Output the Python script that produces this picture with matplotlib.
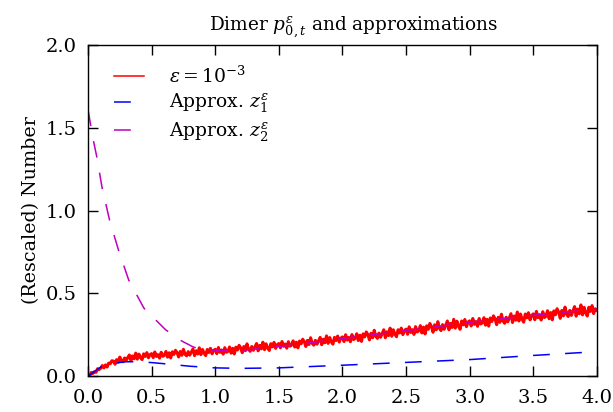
"""
Dimer p_{0,t}^eps with the two approximations z1, z2.
Saves out.png
"""
import numpy as np
import matplotlib
matplotlib.use("Agg")
import matplotlib.pyplot as plt

plt.rcParams["font.family"] = ["DejaVu Serif"]
plt.rcParams["mathtext.fontset"] = "dejavuserif"

# ── Simulated dimer (eps = 1e-3), sampled every 0.0125 ────────────────────────
t_sim = np.linspace(0.0, 4.0, 321)
p_sim = [
    0.000, 0.002, 0.022, 0.016, 0.027, 0.023, 0.045, 0.040,
    0.048, 0.064, 0.050, 0.068, 0.055, 0.079, 0.075, 0.093,
    0.091, 0.072, 0.100, 0.084, 0.115, 0.093, 0.087, 0.110,
    0.094, 0.112, 0.128, 0.094, 0.122, 0.105, 0.139, 0.103,
    0.133, 0.112, 0.100, 0.135, 0.119, 0.142, 0.111, 0.130,
    0.136, 0.112, 0.146, 0.119, 0.130, 0.109, 0.144, 0.120,
    0.126, 0.149, 0.115, 0.141, 0.110, 0.147, 0.131, 0.156,
    0.142, 0.116, 0.149, 0.126, 0.162, 0.132, 0.123, 0.148,
    0.127, 0.146, 0.164, 0.124, 0.153, 0.134, 0.171, 0.130,
    0.161, 0.139, 0.124, 0.161, 0.143, 0.168, 0.135, 0.155,
    0.162, 0.136, 0.173, 0.144, 0.158, 0.133, 0.172, 0.144,
    0.150, 0.176, 0.139, 0.168, 0.134, 0.175, 0.158, 0.186,
    0.171, 0.142, 0.179, 0.154, 0.195, 0.161, 0.150, 0.179,
    0.156, 0.177, 0.197, 0.153, 0.186, 0.165, 0.205, 0.160,
    0.195, 0.170, 0.155, 0.196, 0.177, 0.204, 0.168, 0.190,
    0.197, 0.171, 0.209, 0.180, 0.194, 0.169, 0.208, 0.181,
    0.187, 0.213, 0.176, 0.205, 0.171, 0.212, 0.195, 0.223,
    0.208, 0.179, 0.216, 0.191, 0.232, 0.198, 0.187, 0.216,
    0.193, 0.214, 0.234, 0.190, 0.223, 0.202, 0.243, 0.198,
    0.233, 0.208, 0.193, 0.234, 0.215, 0.242, 0.206, 0.229,
    0.237, 0.209, 0.250, 0.218, 0.234, 0.208, 0.251, 0.221,
    0.228, 0.256, 0.215, 0.247, 0.210, 0.255, 0.237, 0.267,
    0.251, 0.219, 0.259, 0.232, 0.277, 0.240, 0.228, 0.260,
    0.235, 0.258, 0.280, 0.232, 0.268, 0.245, 0.290, 0.241,
    0.280, 0.253, 0.238, 0.280, 0.261, 0.290, 0.251, 0.275,
    0.284, 0.253, 0.298, 0.264, 0.281, 0.252, 0.299, 0.267,
    0.274, 0.305, 0.261, 0.296, 0.255, 0.304, 0.283, 0.318,
    0.300, 0.265, 0.310, 0.280, 0.329, 0.289, 0.275, 0.311,
    0.283, 0.308, 0.333, 0.280, 0.319, 0.294, 0.343, 0.290,
    0.332, 0.301, 0.283, 0.333, 0.310, 0.342, 0.299, 0.326,
    0.334, 0.303, 0.348, 0.313, 0.330, 0.301, 0.348, 0.315,
    0.322, 0.353, 0.308, 0.343, 0.302, 0.351, 0.330, 0.364,
    0.346, 0.311, 0.355, 0.325, 0.374, 0.333, 0.319, 0.356,
    0.328, 0.353, 0.377, 0.324, 0.363, 0.338, 0.387, 0.333,
    0.375, 0.344, 0.326, 0.375, 0.352, 0.383, 0.340, 0.366,
    0.376, 0.341, 0.391, 0.353, 0.371, 0.339, 0.389, 0.354,
    0.361, 0.395, 0.347, 0.384, 0.340, 0.394, 0.371, 0.407,
    0.387, 0.349, 0.397, 0.364, 0.417, 0.374, 0.360, 0.397,
    0.367, 0.394, 0.420, 0.362, 0.405, 0.377, 0.430, 0.370,
    0.415, 0.383, 0.363, 0.416, 0.391, 0.426, 0.378, 0.407,
    0.398,
]

# ── Approximation z1 ──────────────────────────────────────────────────────────
t_z1 = [0.0, 0.1, 0.2, 0.3, 0.4, 0.5, 0.6, 0.8, 1.0, 1.2, 1.5, 2.0, 2.5, 3.0, 3.5, 4.0]
z1 = [0.0, 0.055, 0.078, 0.087, 0.087, 0.082, 0.075, 0.060, 0.050, 0.047,
      0.050, 0.066, 0.083, 0.100, 0.125, 0.148]

# ── Approximation z2 ──────────────────────────────────────────────────────────
t_z2 = [0.0, 0.035, 0.07, 0.11, 0.17, 0.24, 0.32, 0.44, 0.61, 0.73, 0.83, 0.9,
        1.0, 1.1, 1.2, 1.4, 1.6, 1.8, 2.0, 2.5, 3.0, 3.5, 4.0]
z2 = [1.61, 1.45, 1.32, 1.14, 0.94, 0.76, 0.58, 0.41, 0.28, 0.215, 0.175, 0.163,
      0.155, 0.153, 0.155, 0.170, 0.188, 0.207, 0.228, 0.275, 0.325, 0.368, 0.405]

# ── Plot ──────────────────────────────────────────────────────────────────────
fig = plt.figure(figsize=(6.13, 4.12), dpi=100)
ax = fig.add_axes([0.1436, 0.087, 0.830, 0.804])

ax.plot(t_sim, p_sim, color="#ff0000", linewidth=2.2,
        label=r"$\varepsilon = 10^{-3}$")
ax.plot(t_z1, z1, color="#0000ff", linewidth=1.1, dashes=(11, 10),
        label=r"Approx. $z^{\varepsilon}_1$")
ax.plot(t_z2, z2, color="#bf00bf", linewidth=1.1, dashes=(11, 10),
        label=r"Approx. $z^{\varepsilon}_2$")

ax.set_xlim(0, 4)
ax.set_ylim(0, 2)
ax.set_xticks(np.arange(0, 4.01, 0.5))
ax.set_yticks(np.arange(0, 2.01, 0.5))
ax.tick_params(direction="in", top=True, right=True, length=7,
               width=1.0, labelsize=14)
ax.tick_params(axis="x", pad=9)
ax.tick_params(axis="y", pad=8)
for spine in ax.spines.values():
    spine.set_linewidth(1.0)

ax.set_ylabel("(Rescaled) Number", fontsize=13.7, labelpad=4)
ax.set_title(r"Dimer $p^{\varepsilon}_{0,t}$ and approximations",
             fontsize=13.3, pad=10, x=0.523)

leg = ax.legend(loc="upper left", bbox_to_anchor=(0.004, 1.012),
                frameon=False, fontsize=13.5,
                handlelength=1.6, handletextpad=1.3, borderaxespad=0.9,
                labelspacing=0.3)
for line in leg.get_lines():
    line.set_linewidth(1.1)

plt.savefig("out.png", dpi=100)
